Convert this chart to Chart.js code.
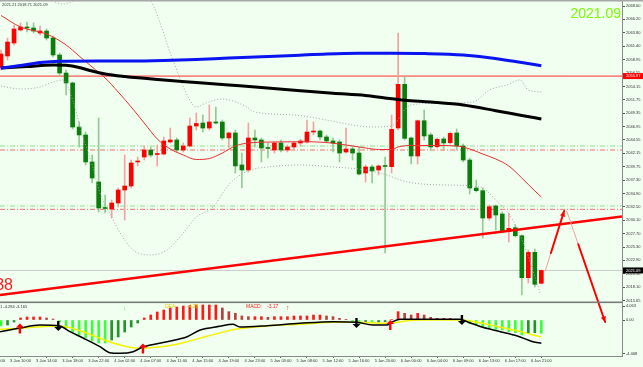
<!DOCTYPE html>
<html>
<head>
<meta charset="utf-8">
<title>XAUUSD H1</title>
<script src="https://cdn.jsdelivr.net/npm/chart.js@4.4.1/dist/chart.umd.min.js"></script>
<style>
  html, body { margin: 0; padding: 0; background: #F0FFF0; }
  #wrap { width: 643px; height: 367px; }
</style>
</head>
<body>
<div id="wrap"><canvas id="chart" width="643" height="367"></canvas></div>
<script>
// H1 candles, index 0 = first visible bar (3 Jan 07:00)
var opens = [2057.46,2059.62,2061.95,2064.29,2064.83,2064.65,2063.75,2064.11,2062.85,2059.80,
  2056.56,2054.77,2046.86,2045.43,2040.58,2036.98,2032.40,2032.13,2033.21,2035.54,
  2036.26,2040.58,2041.47,2042.73,2041.92,2042.01,2044.17,2044.53,2042.73,2043.45,
  2047.04,2047.58,2046.68,2047.76,2047.76,2044.89,2045.79,2040.04,2039.14,2044.89,
  2044.53,2043.18,2042.73,2043.99,2042.73,2043.27,2043.99,2044.17,2045.96,2046.14,
  2045.07,2044.35,2044.17,2042.37,2042.91,2042.19,2038.60,2039.68,2039.14,2039.95,
  2039.73,2046.68,2054.53,2044.89,2041.65,2047.99,2045.43,2043.32,2044.71,2044.04,
  2045.79,2043.45,2040.93,2035.90,2035.42,2030.51,2032.67,2031.23,2028.05,2028.77,
  2027.33,2019.79,2024.35,2018.78];
var highs = [2060.70,2062.85,2065.19,2065.55,2065.73,2065.55,2065.01,2064.47,2063.21,2060.16,
  2057.10,2054.95,2047.76,2045.96,2041.83,2048.48,2034.65,2033.75,2035.90,2041.83,
  2040.93,2041.47,2043.45,2043.27,2043.63,2045.07,2046.68,2044.89,2043.99,2048.48,
  2049.38,2049.02,2050.82,2050.46,2048.12,2045.96,2046.32,2042.19,2047.58,2046.32,
  2044.89,2043.99,2044.17,2044.53,2043.63,2044.17,2044.71,2048.12,2047.76,2046.32,
  2045.43,2044.89,2044.53,2046.68,2043.27,2043.27,2040.04,2040.04,2040.04,2041.47,
  2049.02,2063.75,2055.90,2045.07,2048.12,2049.92,2045.79,2044.89,2045.07,2045.96,
  2046.50,2043.81,2041.29,2037.34,2035.90,2032.85,2032.85,2031.59,2031.41,2029.26,
  2027.46,2024.76,2024.94,2021.17];
var lows = [2057.10,2058.90,2061.59,2064.11,2063.93,2063.75,2063.39,2062.49,2059.44,2056.03,
  2052.61,2046.50,2043.27,2040.04,2036.80,2031.59,2031.41,2030.51,2032.49,2030.15,
  2035.90,2039.86,2040.93,2041.47,2039.86,2041.83,2043.99,2042.37,2042.37,2043.27,
  2046.32,2045.96,2046.32,2047.40,2044.53,2043.09,2038.60,2035.90,2038.78,2043.27,
  2040.58,2041.29,2042.19,2042.37,2042.37,2042.73,2043.45,2043.99,2045.43,2044.53,
  2043.99,2042.37,2040.58,2042.19,2040.93,2038.24,2036.98,2036.80,2038.24,2024.23,
  2038.60,2046.32,2044.53,2040.22,2040.22,2044.53,2042.73,2043.09,2042.73,2043.81,
  2042.73,2040.58,2034.83,2035.19,2026.92,2030.15,2028.36,2027.82,2026.20,2027.10,
  2016.68,2018.84,2018.12,2018.66];
var closes = [2059.98,2062.13,2064.47,2064.83,2064.65,2064.11,2064.11,2062.85,2059.80,2056.56,
  2054.77,2046.86,2045.43,2040.58,2037.70,2032.31,2032.22,2033.21,2035.54,2036.26,
  2040.40,2040.75,2042.73,2041.83,2042.10,2044.35,2044.53,2042.73,2043.45,2047.04,
  2047.49,2046.68,2047.76,2047.58,2044.89,2045.79,2039.86,2039.14,2044.89,2044.53,
  2043.09,2043.00,2043.99,2042.73,2043.27,2043.99,2044.35,2045.96,2046.05,2045.07,
  2044.35,2043.99,2042.19,2042.91,2042.19,2038.42,2039.68,2038.96,2039.86,2039.77,
  2046.45,2054.53,2044.83,2041.65,2047.99,2045.25,2043.27,2044.65,2043.99,2045.73,
  2043.45,2040.93,2035.90,2035.42,2030.51,2032.54,2031.05,2028.00,2028.66,2027.33,
  2019.79,2024.35,2018.60,2021.09];

// moving averages (bar index, price)
var blueBars = [0,3,6,9,15,20,25,30,35,40,45,50,55,60,65,71,75,79,83];
var blueVals = [2057.46,2057.91,2058.45,2058.68,2058.72,2058.72,2058.81,2058.99,2059.26,2059.48,
  2059.71,2059.98,2060.10,2060.10,2060.05,2059.80,2059.31,2058.63,2057.88];
var blackBars = [0,4,8,10,12,14,16,19,25,30,35,40,46,51,56,59,62,66,71,76,80,83];
var blackVals = [2057.46,2057.73,2058.00,2057.97,2057.55,2056.92,2056.39,2055.94,2055.31,2054.86,
  2054.41,2053.96,2053.39,2052.92,2052.52,2052.07,2051.66,2051.35,2050.82,2049.79,2048.93,2048.30];
var midBars = [0,3,7,10,12,14,16,18,20,22,24,26,28,30,32,34,36,38,42,46,50,54,56,58,60,61,63,67,70,72,74,76,78,80,82,83];
var midVals = [2066.90,2064.83,2063.57,2061.60,2059.62,2057.64,2055.67,2053.15,2050.46,2047.58,
  2044.71,2042.91,2041.83,2041.02,2041.20,2042.19,2043.45,2043.99,2044.17,2044.22,
  2044.08,2043.45,2043.09,2042.82,2042.82,2043.27,2043.54,2043.54,2043.45,2042.91,
  2042.01,2041.11,2039.86,2037.70,2035.37,2034.29];
var upperBars = [6,8,9.5,11,13,16,20,22,23,26.4,29,30,31.5,34,37.5,39,45,50,54,57,60,62,63,68.5,72.5,75,77.7,79.7,81,83];
var upperVals = [2071.12,2069.50,2068.96,2069.50,2071.48,2074.17,2073.27,2070.76,2069.68,2058.90,
  2051.71,2050.46,2051.18,2051.89,2050.64,2049.56,2049.02,2048.12,2047.22,2046.86,
  2047.04,2049.92,2050.82,2051.18,2051.35,2053.51,2054.41,2055.31,2053.51,2053.15];
var lowerBars = [0,3,6,8,9.5,11,12.5,14,15.2,17,18.3,20.3,22.9,25.5,28,30,32.6,34.7,36.3,38.3,41,46,51,56,59.3,61.3,63.3,68.5,73.6,76,78.6,80.8,82.8];
var lowerVals = [2054.23,2053.69,2054.05,2054.95,2055.31,2051.71,2045.43,2040.04,2035.01,2030.69,
  2027.82,2024.76,2023.87,2024.76,2027.82,2030.69,2032.49,2036.08,2037.88,2039.14,
  2039.68,2040.04,2039.68,2039.14,2038.24,2037.34,2036.80,2036.44,2036.08,2033.75,
  2030.15,2024.23,2017.04];

// levels and drawn objects
var redLevel = 2056.01, redLevelLabel = '2055.97';
var greenDash = [2043.45, 2032.67];
var redDash = [2042.73, 2032.07];
var bidPrice = 2021.09, bidLabel = '2021.09';
var trendBars = [-0.15, 95.4];
var trendVals = [2016.68, 2030.78];
var upArrowBars = [83.6, 86.5], upArrowVals = [2021.00, 2031.77];
var downArrowBars = [86.9, 92.8], downArrowVals = [2031.77, 2011.83];

// MACD pane
var hist = [-1.10,-0.92,-0.37,0.37,0.55,0.55,0.55,0.37,0.18,-0.37,
  -1.47,-2.21,-2.76,-3.31,-3.86,-4.23,-4.23,-3.68,-3.13,-2.21,
  -1.29,-0.55,0.37,0.92,1.47,1.84,2.21,2.39,2.57,2.67,
  2.76,2.76,2.76,2.76,2.21,1.53,1.23,0.74,0.61,0.61,
  0.61,0.50,0.61,0.61,0.61,0.74,0.74,0.74,0.92,0.92,
  0.74,0.61,0.31,0.13,-0.31,-0.61,-0.50,-0.50,-0.37,-0.31,
  0.09,1.53,1.23,0.92,1.23,0.92,0.50,0.31,0.31,0.31,
  0.13,-0.31,-0.61,-0.92,-1.23,-1.53,-1.71,-1.84,-2.15,-2.33,
  -2.76,-2.44,-2.33,-2.44];
var difBars = [-0.15,2.9,6,9,10.6,12.6,15.2,16.7,18.3,20.3,21.8,25.5,28.6,30.6,33.6,35.6,36.7,40.9,45.9,51,54.7,57.1,59.3,60.2,61.3,64.4,70.5,71.6,74,76.7,79.3,81.7,83];
var difVals = [-2.15,-1.47,-0.92,-1.10,-2.15,-3.31,-4.91,-6.01,-6.12,-5.83,-4.96,-3.99,-3.07,-1.84,-1.16,-0.79,-1.29,-1.05,-0.61,-0.31,-0.42,-0.92,-0.92,-0.31,0.13,0.13,0.13,-0.31,-1.34,-2.15,-2.94,-3.99,-4.28];
var deaBars = [-0.15,2.9,6,9,12.6,15.2,18.3,21.3,22.4,25.5,28.6,31.6,33.6,35.6,40.9,45.9,51,54.7,59.3,62.4,64.4,70.5,74,76.7,79.3,81.7,83];
var deaVals = [-1.71,-1.53,-1.23,-1.10,-2.15,-3.36,-4.60,-5.20,-5.15,-4.78,-3.99,-3.00,-2.40,-1.80,-1.10,-0.79,-0.42,-0.42,-0.61,-0.13,0,0,-0.61,-1.34,-1.97,-2.76,-3.07];
var sigBars = [2.9, 8.8, 21.8, 54.6, 59.8, 70.8];
var sigVals = [-1.56, -1.10, -5.24, -0.55, -0.92, 0];
var sigUp = [true, false, true, false, true, false];

// axes
var xMin = -0.154, xMax = 95.39;
var priceMin = 2015.42, priceMax = 2069.68;
var macdMin = -6.62, macdMax = 3.31;
var priceTicks = [2068.60,2066.20,2063.80,2061.40,2058.95,2056.55,2054.15,2051.75,2049.35,2046.95,
  2044.55,2042.15,2039.75,2037.30,2034.90,2032.50,2030.10,2027.70,2025.30,2022.90,2020.50,2018.10,2015.65];
var macdTicks = [2.57, 0, -6.25];
var macdTickLabels = ['4.063', '0.00', '-4.068'];
var timeBars = [-1,3,7,11,15,19,23,27,31,35,39,43,47,51,55,59,63,67,71,75,79,83];
var timeLabels = ['3 Jan 06:00','3 Jan 10:00','3 Jan 14:00','3 Jan 18:00','3 Jan 22:00','4 Jan 02:00',
  '4 Jan 07:00','4 Jan 11:00','4 Jan 15:00','4 Jan 19:00','4 Jan 23:00','5 Jan 03:00','5 Jan 08:00',
  '5 Jan 12:00','5 Jan 16:00','5 Jan 20:00','6 Jan 00:00','6 Jan 04:00','6 Jan 09:00','6 Jan 13:00',
  '6 Jan 17:00','6 Jan 21:00'];

var BG = '#F0FFF0';

function pts(xs, ys) {
  return xs.map(function (x, i) { return { x: x, y: ys[i] }; });
}
function flat(v) {
  return [{ x: xMin, y: v }, { x: xMax, y: v }];
}
function lineSet(data, color, width, order, dash, axis) {
  return {
    type: 'line', data: data, borderColor: color, borderWidth: width, borderDash: dash || [],
    pointRadius: 0, cubicInterpolationMode: 'monotone', order: order, yAxisID: axis || 'y'
  };
}

var up = opens.map(function (o, i) { return closes[i] >= o; });
var candleWicks = opens.map(function (o, i) { return { x: i, y: [lows[i], highs[i]] }; });
var candleBodies = opens.map(function (o, i) { return { x: i, y: [o, closes[i]] }; });
var histData = hist.map(function (v, i) { return { x: i, y: v }; });
var histColors = hist.map(function (v, i) {
  var prev = i > 0 ? hist[i - 1] : v;
  if (v >= 0) return v >= prev ? '#FF1A1A' : '#B84040';
  return v <= prev ? '#3CFF3C' : '#23932A';
});

// little MT4 style arrow used on the MACD crosses
function sigArrow(c, x, y, isUp, color) {
  var d = isUp ? 1 : -1;
  c.fillStyle = color;
  c.beginPath();
  c.moveTo(x, y - 5 * d);
  c.lineTo(x + 4, y - 1 * d);
  c.lineTo(x + 1.2, y - 1 * d);
  c.lineTo(x + 1.2, y + 5 * d);
  c.lineTo(x - 1.2, y + 5 * d);
  c.lineTo(x - 1.2, y - 1 * d);
  c.lineTo(x - 4, y - 1 * d);
  c.closePath();
  c.fill();
}

// trend arrow: thin pale start, thick red rest, head at the end
function drawArrow(c, x1, y1, x2, y2) {
  var mx = x1 + (x2 - x1) * 0.3, my = y1 + (y2 - y1) * 0.3;
  c.lineCap = 'round';
  c.strokeStyle = '#F4A0A0'; c.lineWidth = 1;
  c.beginPath(); c.moveTo(x1, y1); c.lineTo(mx, my); c.stroke();
  c.strokeStyle = '#FF0000'; c.lineWidth = 2;
  c.beginPath(); c.moveTo(mx, my); c.lineTo(x2, y2); c.stroke();
  var a = Math.atan2(y2 - y1, x2 - x1);
  c.fillStyle = '#FF0000';
  c.beginPath();
  c.moveTo(x2, y2);
  c.lineTo(x2 - 6 * Math.cos(a - 0.45), y2 - 6 * Math.sin(a - 0.45));
  c.lineTo(x2 - 6 * Math.cos(a + 0.45), y2 - 6 * Math.sin(a + 0.45));
  c.closePath();
  c.fill();
}

var decor = {
  id: 'decor',
  beforeDraw: function (chart) {
    var c = chart.ctx;
    c.save();
    c.fillStyle = BG;
    c.fillRect(0, 0, chart.width, chart.height);
    c.restore();
  },
  afterDatasetsDraw: function (chart) {
    var c = chart.ctx, sx = chart.scales.x, sy = chart.scales.y, sm = chart.scales.m;
    c.save();
    drawArrow(c, sx.getPixelForValue(upArrowBars[0]), sy.getPixelForValue(upArrowVals[0]),
      sx.getPixelForValue(upArrowBars[1]), sy.getPixelForValue(upArrowVals[1]));
    drawArrow(c, sx.getPixelForValue(downArrowBars[0]), sy.getPixelForValue(downArrowVals[0]),
      sx.getPixelForValue(downArrowBars[1]), sy.getPixelForValue(downArrowVals[1]));

    for (var i = 0; i < sigBars.length; i++) {
      sigArrow(c, sx.getPixelForValue(sigBars[i]), sm.getPixelForValue(sigVals[i]), sigUp[i],
        sigUp[i] ? '#FF0000' : '#000000');
    }

    // texts in the chart
    c.textBaseline = 'alphabetic';
    c.font = '4px Arial';
    c.fillStyle = '#333';
    c.textAlign = 'left';
    c.fillText('2021.21 2018.71 2021.09', 2, 6);

    c.font = '14px Arial';
    c.fillStyle = '#7CFC00';
    c.textAlign = 'right';
    c.fillText('2021.09', 621, 17.5);

    c.font = '16px Arial';
    c.fillStyle = '#FF2020';
    c.fillText('38', 13, 290);

    var ty = sm.top + 6;
    c.textAlign = 'left';
    c.font = '4px Arial';
    c.fillStyle = '#333';
    c.fillText('1 -4.284 -3.165', 0, ty);
    c.font = '5px Arial';
    c.fillStyle = '#E6C800';
    c.fillText('DEA:', 165, ty);
    c.fillText('-4.28', 187, ty);
    c.fillStyle = '#FF2020';
    c.fillText('MACD:', 246, ty);
    c.fillText('-3.17', 267, ty);
    c.font = '7px Arial';
    c.fillText('\u2191', 286, ty + 2);
    c.fillStyle = '#7FE07F';
    c.fillText('\u2193', 123, ty + 2);
    c.restore();
  },
  afterDraw: function (chart) {
    var c = chart.ctx, sy = chart.scales.y, sm = chart.scales.m, a = chart.chartArea;
    c.save();
    // top frame and pane separator
    c.fillStyle = '#A8A8A8';
    c.fillRect(0, 0, chart.width, 1.5);
    c.fillStyle = '#7A7A7A';
    c.fillRect(0, sm.top - 0.5, a.right, 1.6);

    // price boxes on the axis
    c.font = '4px Arial';
    c.textAlign = 'left';
    c.textBaseline = 'middle';
    var yr = sy.getPixelForValue(redLevel);
    c.fillStyle = '#FF0000';
    c.fillRect(a.right + 1, yr - 3, 20, 6);
    c.fillStyle = '#FFFFFF';
    c.fillText(redLevelLabel, a.right + 4, yr);
    var yb = sy.getPixelForValue(bidPrice);
    c.fillStyle = '#000000';
    c.fillRect(a.right + 1, yb - 3, 20, 6);
    c.fillStyle = '#FFFFFF';
    c.fillText(bidLabel, a.right + 4, yb);
    c.restore();
  }
};

var datasets = [
  lineSet(flat(greenDash[0]), '#8EE38E', 1, 20, [5, 2, 1, 2]),
  lineSet(flat(redDash[0]), '#F07070', 1, 20, [5, 2, 1, 2]),
  lineSet(flat(greenDash[1]), '#8EE38E', 1, 20, [5, 2, 1, 2]),
  lineSet(flat(redDash[1]), '#F07070', 1, 20, [5, 2, 1, 2]),
  lineSet(flat(bidPrice), '#C8CCC8', 1, 20),
  lineSet(flat(redLevel), '#FF3030', 1, 19),
  {
    type: 'bar', data: candleWicks, barThickness: 1, grouped: false, order: 15,
    backgroundColor: up.map(function (u) { return u ? '#F2A2A2' : '#93CB93'; }), yAxisID: 'y'
  },
  {
    type: 'bar', data: candleBodies, barThickness: 4, minBarLength: 1, grouped: false, order: 14,
    backgroundColor: up.map(function (u) { return u ? '#FF0000' : '#0B7D0B'; }), yAxisID: 'y'
  },
  lineSet(pts(upperBars, upperVals), '#A8A8A8', 1, 10, [1, 2]),
  lineSet(pts(lowerBars, lowerVals), '#A8A8A8', 1, 10, [1, 2]),
  lineSet(pts(midBars, midVals), '#E83030', 1, 8),
  lineSet(pts(blackBars, blackVals), '#000000', 3, 6),
  lineSet(pts(blueBars, blueVals), '#0A14F0', 3, 5),
  lineSet(pts(trendBars, trendVals), '#FF0000', 2.5, 3),
  {
    type: 'bar', data: histData, barThickness: 2, grouped: false, order: 12,
    backgroundColor: histColors, yAxisID: 'm'
  },
  lineSet(pts(deaBars, deaVals), '#F2F200', 1.5, 4, null, 'm'),
  lineSet(pts(difBars, difVals), '#000000', 1.5, 2, null, 'm')
];

new Chart(document.getElementById('chart').getContext('2d'), {
  type: 'bar',
  data: { datasets: datasets },
  options: {
    responsive: false,
    animation: false,
    devicePixelRatio: 1,
    layout: { padding: 0 },
    plugins: { legend: { display: false }, tooltip: { enabled: false } },
    scales: {
      x: {
        type: 'linear', min: xMin, max: xMax, offset: false,
        grid: { offset: false, drawOnChartArea: false, tickLength: 2, color: '#666' },
        border: { color: '#8A8A8A' },
        ticks: {
          autoSkip: false, maxRotation: 0, padding: 0, color: '#333', font: { size: 4, family: 'Arial' },
          callback: function (v, i) { return timeLabels[i]; }
        },
        afterBuildTicks: function (s) { s.ticks = timeBars.map(function (b) { return { value: b }; }); },
        afterFit: function (s) { s.height = 11; s.paddingLeft = 0; s.paddingRight = 0; }
      },
      y: {
        type: 'linear', position: 'right', stack: 'panes', stackWeight: 302,
        min: priceMin, max: priceMax,
        grid: { drawOnChartArea: false, tickLength: 3, color: '#555' },
        border: { color: '#8A8A8A' },
        ticks: {
          autoSkip: false, padding: 1, color: '#333', font: { size: 4, family: 'Arial' },
          callback: function (v, i) { return priceTicks[i].toFixed(2); }
        },
        afterBuildTicks: function (s) { s.ticks = priceTicks.map(function (p) { return { value: p }; }); },
        afterFit: function (s) { s.width = 21; s.paddingTop = 0; s.paddingBottom = 0; }
      },
      m: {
        type: 'linear', position: 'right', stack: 'panes', stackWeight: 54,
        min: macdMin, max: macdMax,
        grid: { drawOnChartArea: false, tickLength: 3, color: '#555' },
        border: { color: '#8A8A8A' },
        ticks: {
          autoSkip: false, padding: 1, color: '#333', font: { size: 4, family: 'Arial' },
          callback: function (v, i) { return macdTickLabels[i]; }
        },
        afterBuildTicks: function (s) { s.ticks = macdTicks.map(function (p) { return { value: p }; }); },
        afterFit: function (s) { s.width = 21; s.paddingTop = 0; s.paddingBottom = 0; }
      }
    }
  },
  plugins: [decor]
});
</script>
</body>
</html>
